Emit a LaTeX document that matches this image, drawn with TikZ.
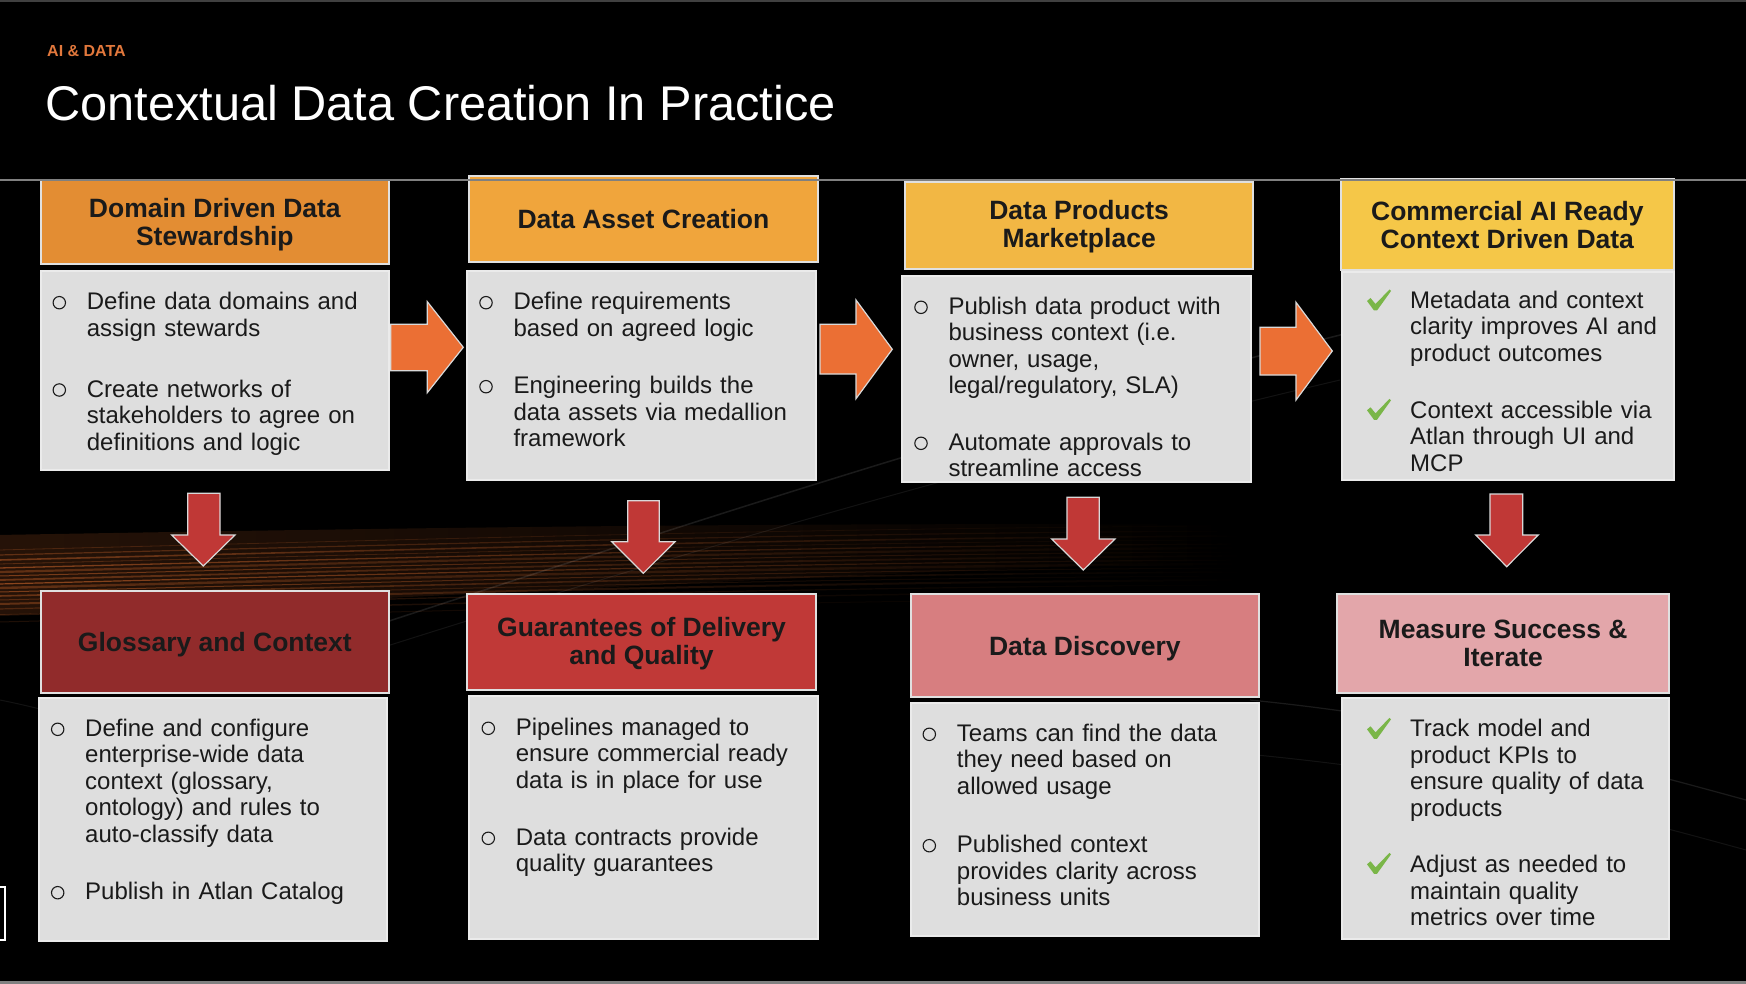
\documentclass[tikz,border=0pt]{standalone}
\usepackage{fontspec}
\setmainfont{Liberation Sans}
\usetikzlibrary{calc,fadings}
\definecolor{hdA}{RGB}{227,141,51}
\definecolor{hdB}{RGB}{240,165,60}
\definecolor{hdC}{RGB}{242,183,68}
\definecolor{hdD}{RGB}{245,199,72}
\definecolor{hdE}{RGB}{145,43,43}
\definecolor{hdF}{RGB}{192,57,55}
\definecolor{hdG}{RGB}{215,126,128}
\definecolor{hdH}{RGB}{227,166,170}
\definecolor{bodyg}{RGB}{222,222,222}
\definecolor{arrO}{RGB}{235,111,52}
\definecolor{arrR}{RGB}{192,56,54}
\definecolor{txt}{RGB}{26,26,26}
\definecolor{chk}{RGB}{122,182,72}
\definecolor{kicker}{RGB}{226,120,60}
\definecolor{streak}{RGB}{210,105,45}
\newcommand\bodyfnt{\fontsize{24}{26.5}\selectfont}
\newcommand\headfnt{\fontsize{26.5}{28}\selectfont\bfseries}
\begin{document}
\begin{tikzpicture}[x=1pt,y=-1pt,
  hdr/.style={draw=white!88!black, line width=1.8pt, inner sep=0pt},
  htxt/.style={inner sep=0pt, text=txt, align=center, font=\headfnt},
  bodybox/.style={draw=white!92!black, line width=1.8pt, fill=bodyg, inner sep=0pt},
  btxt/.style={anchor=base west, inner sep=0pt, text width=330pt, align=left, text=txt, font=\bodyfnt},
  bul/.style={draw=txt, line width=1.1pt, fill=none},
  oarrow/.style={fill=arrO, draw=white!85!black, line width=1.2pt},
  rarrow/.style={fill=arrR, draw=white!85!black, line width=1.2pt},
  chkmark/.style={fill=chk, draw=none}
]
\useasboundingbox (0,0) rectangle (1746,984);
\fill[black] (0,0) rectangle (1746,984);
% background glow and streaks
\fill[streak, opacity=0.18, path fading=east] (0,535) .. controls (400,528) and (800,522) .. (1250,525) -- (1250,560) .. controls (800,575) and (400,600) .. (0,615) -- cycle;
\foreach \yy/\op/\lw in {538/0.25/0.8, 543/0.35/1.2, 548/0.45/1.6, 552/0.3/0.8, 556/0.55/1.3, 560/0.35/2.2, 564/0.5/1, 568/0.4/1.8, 572/0.6/1.2, 576/0.35/2.4, 580/0.5/1, 584/0.4/1.6, 588/0.3/1, 592/0.35/2, 597/0.25/1.2, 603/0.2/1.5, 610/0.15/1}{
  \draw[streak, opacity=\op, line width=\lw pt, path fading=east] (0,\yy+12) .. controls (400,\yy+2) and (800,\yy-10) .. (1250,\yy-12);
}
\draw[white, opacity=0.10, line width=1.5pt] (300,650) .. controls (700,520) and (1000,420) .. (1360,330);
\draw[white, opacity=0.07, line width=1pt] (250,690) .. controls (650,560) and (1000,460) .. (1340,380);
\draw[white, opacity=0.10, line width=1.2pt] (1250,700) .. controls (1450,720) and (1600,760) .. (1746,800);
\draw[white, opacity=0.07, line width=1pt] (1200,750) .. controls (1450,770) and (1600,810) .. (1746,850);
\draw[white, opacity=0.07, line width=1pt] (0,700) .. controls (100,720) and (200,760) .. (300,800);
% frame lines
\fill[black!75] (0,0) rectangle (1746,2);
\fill[black!50] (0,981) rectangle (1746,984);
\draw[white, line width=1.2pt] (-10,887) rectangle (5,940);
% title
\node[anchor=base west, inner sep=0pt, text=kicker, font=\fontsize{16}{18}\selectfont\bfseries] (kick) at (47,56.7) {AI \& DATA};
\node[anchor=base west, inner sep=0pt, text=white, font=\fontsize{48.7}{56}\selectfont] (title) at (45,121) {Contextual Data Creation In Practice};
% top row headers
\node[hdr, fill=hdA, minimum width=348.3pt, minimum height=84pt] (h1) at (214.85,222) {};
\node[hdr, fill=hdB, minimum width=348.4pt, minimum height=85.7pt] (h2) at (643.5,218.85) {};
\node[hdr, fill=hdC, minimum width=348.3pt, minimum height=86.7pt] (h3) at (1079.15,225.65) {};
\node[hdr, fill=hdD, minimum width=333.3pt, minimum height=90.7pt] (h4) at (1507.35,224.65) {};
\node[htxt] (h1t) at ([yshift=-3pt]h1.center) {Domain Driven Data\\Stewardship};
\node[htxt] (h2t) at (h2.center) {Data Asset Creation};
\node[htxt] (h3t) at ([yshift=-1pt]h3.center) {Data Products\\Marketplace};
\node[htxt] (h4t) at (h4.center) {Commercial AI Ready\\Context Driven Data};
% top row bodies
\node[bodybox, minimum width=348.3pt, minimum height=199.3pt] (b1) at (214.85,370.35) {};
\node[bodybox, minimum width=348.4pt, minimum height=209pt] (b2) at (641.5,375.5) {};
\node[bodybox, minimum width=348.7pt, minimum height=206pt] (b3) at (1076.35,379) {};
\node[bodybox, minimum width=332.3pt, minimum height=208.3pt] (b4) at (1507.85,375.85) {};
% bottom row headers
\node[hdr, fill=hdE, minimum width=348.3pt, minimum height=102pt] (h5) at (214.85,641.7) {};
\node[hdr, fill=hdF, minimum width=348.4pt, minimum height=95.7pt] (h6) at (641.5,642.15) {};
\node[hdr, fill=hdG, minimum width=348.3pt, minimum height=103pt] (h7) at (1084.85,645.8) {};
\node[hdr, fill=hdH, minimum width=331.7pt, minimum height=98.4pt] (h8) at (1503.15,643.5) {};
\node[htxt] (h5t) at ([yshift=-2.5pt]h5.center) {Glossary and Context};
\node[htxt] (h6t) at ([yshift=-1pt]h6.center) {Guarantees of Delivery\\and Quality};
\node[htxt] (h7t) at ([yshift=-3pt]h7.center) {Data Discovery};
\node[htxt] (h8t) at (h8.center) {Measure Success \&\\Iterate};
% bottom row bodies
\node[bodybox, minimum width=348.6pt, minimum height=242.4pt] (b5) at (213,819.5) {};
\node[bodybox, minimum width=348.4pt, minimum height=243pt] (b6) at (643.5,817.5) {};
\node[bodybox, minimum width=348.3pt, minimum height=232.7pt] (b7) at (1084.85,819.65) {};
\node[bodybox, minimum width=326.7pt, minimum height=240.7pt] (b8) at (1505.65,818.65) {};
% separator line
\draw[black!50, line width=1.5pt] (0,180) -- (1746,180);
% bullets box 1
\draw[bul] (59.3,302.7) circle (6.2);
\node[btxt] (t1a) at (86.7,309.7) {Define data domains and\\assign stewards};
\draw[bul] (59.3,390) circle (6.2);
\node[btxt] (t1b) at (86.7,397) {Create networks of\\stakeholders to agree on\\definitions and logic};
% box 2
\draw[bul] (486,302.7) circle (6.2);
\node[btxt] (t2a) at (513.3,309.7) {Define requirements\\based on agreed logic};
\draw[bul] (486,386.7) circle (6.2);
\node[btxt] (t2b) at (513.3,393.7) {Engineering builds the\\data assets via medallion\\framework};
% box 3
\draw[bul] (921,307.3) circle (6.2);
\node[btxt] (t3a) at (948.3,314.3) {Publish data product with\\business context (i.e.\\owner, usage,\\legal/regulatory, SLA)};
\draw[bul] (921,443.3) circle (6.2);
\node[btxt] (t3b) at (948.3,450.3) {Automate approvals to\\streamline access};
% box 4
\fill[chkmark, shift={(1379,300)}] (-12,1) -- (-8.5,-2) -- (-3.5,4) -- (10.5,-10.5) -- (12,-9) -- (-2,10.5) -- (-5,10.5) -- cycle;
\node[btxt] (t4a) at (1410,308.3) {Metadata and context\\clarity improves AI and\\product outcomes};
\fill[chkmark, shift={(1379,409.3)}] (-12,1) -- (-8.5,-2) -- (-3.5,4) -- (10.5,-10.5) -- (12,-9) -- (-2,10.5) -- (-5,10.5) -- cycle;
\node[btxt] (t4b) at (1410,418.3) {Context accessible via\\Atlan through UI and\\MCP};
% box 5
\draw[bul] (57.7,729.3) circle (6.2);
\node[btxt] (t5a) at (85,736.3) {Define and configure\\enterprise-wide data\\context (glossary,\\ontology) and rules to\\auto-classify data};
\draw[bul] (57.7,892.7) circle (6.2);
\node[btxt] (t5b) at (85,899.7) {Publish in Atlan Catalog};
% box 6
\draw[bul] (488.3,728.3) circle (6.2);
\node[btxt] (t6a) at (515.7,735.3) {Pipelines managed to\\ensure commercial ready\\data is in place for use};
\draw[bul] (488.3,838.3) circle (6.2);
\node[btxt] (t6b) at (515.7,845.3) {Data contracts provide\\quality guarantees};
% box 7
\draw[bul] (929.3,734.3) circle (6.2);
\node[btxt] (t7a) at (956.7,741.3) {Teams can find the data\\they need based on\\allowed usage};
\draw[bul] (929.3,845.7) circle (6.2);
\node[btxt] (t7b) at (956.7,852.7) {Published context\\provides clarity across\\business units};
% box 8
\fill[chkmark, shift={(1379,728.3)}] (-12,1) -- (-8.5,-2) -- (-3.5,4) -- (10.5,-10.5) -- (12,-9) -- (-2,10.5) -- (-5,10.5) -- cycle;
\node[btxt] (t8a) at (1410,736.7) {Track model and\\product KPIs to\\ensure quality of data\\products};
\fill[chkmark, shift={(1379,863.3)}] (-12,1) -- (-8.5,-2) -- (-3.5,4) -- (10.5,-10.5) -- (12,-9) -- (-2,10.5) -- (-5,10.5) -- cycle;
\node[btxt] (t8b) at (1410,872.7) {Adjust as needed to\\maintain quality\\metrics over time};
% right arrows
\draw[oarrow] (390.7,324.3) -- (427.3,324.3) -- (427.3,301.7) -- (463.3,347.3) -- (427.3,392.7) -- (427.3,370.7) -- (390.7,370.7) -- cycle;
\draw[oarrow] (820,324.3) -- (856,324.3) -- (856,300) -- (892.3,349.3) -- (856,398.7) -- (856,374) -- (820,374) -- cycle;
\draw[oarrow] (1260,327.3) -- (1296,327.3) -- (1296,302.3) -- (1332.3,351) -- (1296,400) -- (1296,375) -- (1260,375) -- cycle;
% down arrows
\draw[rarrow] (187.7,493.3) -- (220,493.3) -- (220,535) -- (235,535) -- (203.3,566) -- (171.7,535) -- (187.7,535) -- cycle;
\draw[rarrow] (627.7,500.7) -- (659.3,500.7) -- (659.3,541.7) -- (675,541.7) -- (643.3,573.3) -- (611.7,541.7) -- (627.7,541.7) -- cycle;
\draw[rarrow] (1067,497.3) -- (1099.3,497.3) -- (1099.3,539) -- (1115,539) -- (1083.3,570) -- (1051.7,539) -- (1067,539) -- cycle;
\draw[rarrow] (1490,494) -- (1522.7,494) -- (1522.7,535) -- (1538.3,535) -- (1506.7,566.7) -- (1475.7,535) -- (1490,535) -- cycle;
\end{tikzpicture}
\end{document}
